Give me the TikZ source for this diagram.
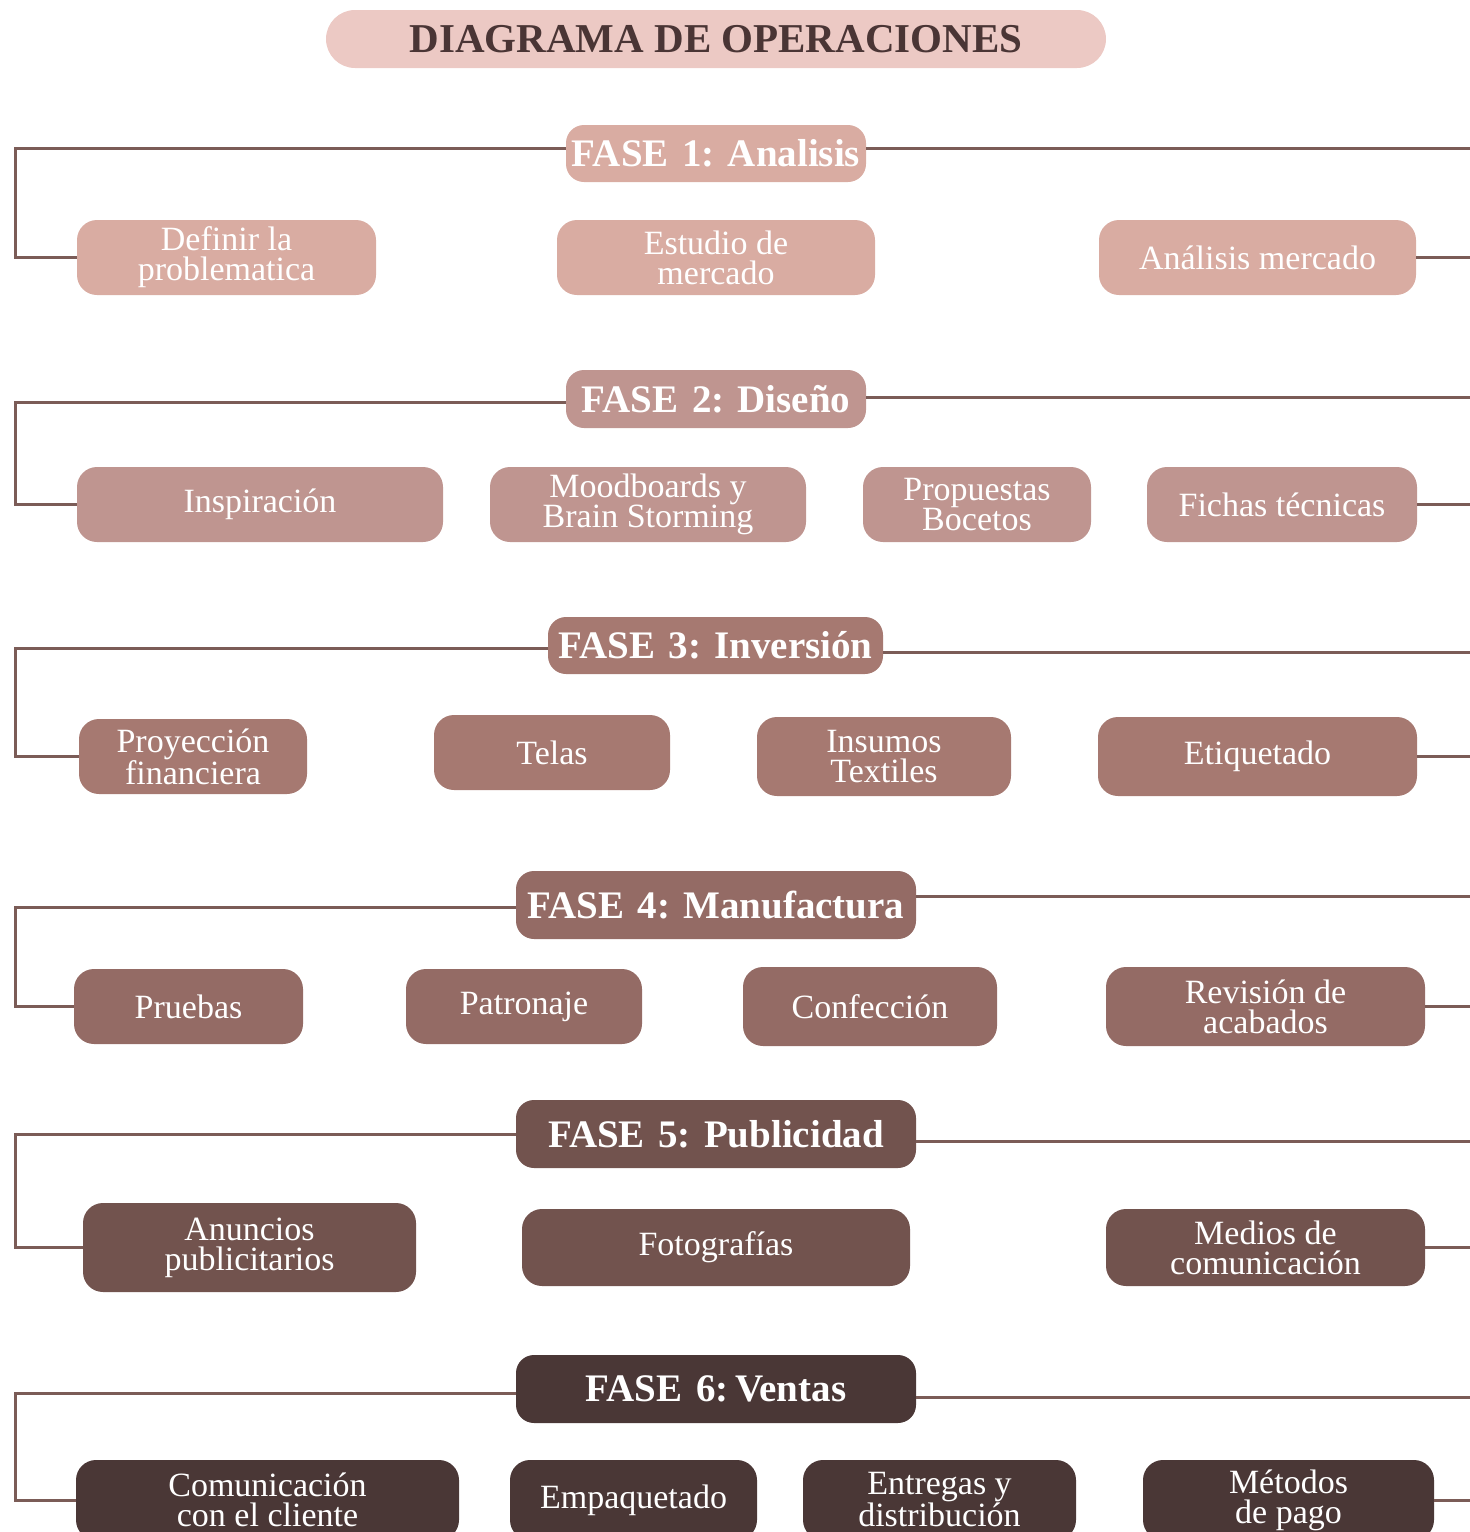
\documentclass[tikz,border=0pt]{standalone}
\usepackage{fontspec}
\setmainfont{Liberation Serif}
\definecolor{titlefill}{HTML}{ECC9C4}
\definecolor{titletext}{HTML}{4A3535}
\definecolor{cA}{HTML}{D9ACA2}
\definecolor{cB}{HTML}{BF9590}
\definecolor{cC}{HTML}{A67971}
\definecolor{cD}{HTML}{946B65}
\definecolor{cE}{HTML}{72534E}
\definecolor{cF}{HTML}{4A3736}
\definecolor{lc}{HTML}{7B5C57}
\newcommand{\childfont}{\fontsize{34}{30}\selectfont}
\newcommand{\hdrfont}{\fontsize{39}{42}\selectfont\bfseries}
\begin{document}
\begin{tikzpicture}[x=1pt,y=-1pt,
  ln/.style={draw=lc, line width=3pt},
  child/.style={rounded corners=20pt, text=white, font=\childfont, align=center, inner sep=0pt},
  hdr/.style={rounded corners=18pt, text=white, font=\hdrfont, inner sep=0pt, minimum height=68pt},
]
\useasboundingbox (0,0) rectangle (1470,1532);
\clip (0,0) rectangle (1470,1532);

% title
\node[fill=titlefill, rounded corners=29pt, minimum width=780pt, minimum height=58pt, inner sep=0pt,
  text=titletext, font=\fontsize{41}{44}\selectfont\bfseries] (title) at (716,39) {DIAGRAMA DE OPERACIONES};

% ---------- FASE 1
\node[hdr, fill=cA, minimum width=300pt, minimum height=57pt] (h1) at (716,153.5) {FASE\hspace{0.35em}1: Analisis};
\node[child, fill=cA, minimum width=299pt, minimum height=75pt] (a1) at (226.5,257.5) {Definir la\\problematica};
\node[child, fill=cA, minimum width=318pt, minimum height=75pt] (a2) at (716,257.5) {Estudio de\\mercado};
\node[child, fill=cA, minimum width=317pt, minimum height=75pt] (a3) at (1257.5,257.5) {Análisis mercado};
\coordinate (L1) at (15,148);
\coordinate (R1) at (1470,148);
\draw[ln] (h1.west |- L1) -- (L1) -- (L1 |- a1.west) -- (a1.west);
\draw[ln] (h1.east |- R1) -- (R1);
\draw[ln] (a3.east) -- (a3.east -| R1);

% ---------- FASE 2
\node[hdr, fill=cB, minimum width=300pt, minimum height=58pt] (h2) at (716,399) {FASE\hspace{0.35em}2: Diseño};
\node[child, fill=cB, minimum width=366pt, minimum height=75pt] (b1) at (260,504.5) {Inspiración};
\node[child, fill=cB, minimum width=316pt, minimum height=75pt] (b2) at (648,504.5) {Moodboards y\\Brain Storming};
\node[child, fill=cB, minimum width=228pt, minimum height=75pt] (b3) at (977,504.5) {Propuestas\\Bocetos};
\node[child, fill=cB, minimum width=270pt, minimum height=75pt] (b4) at (1282,504.5) {Fichas técnicas};
\coordinate (L2) at (15,402);
\coordinate (R2) at (1470,397);
\draw[ln] (h2.west |- L2) -- (L2) -- (L2 |- b1.west) -- (b1.west);
\draw[ln] (h2.east |- R2) -- (R2);
\draw[ln] (b4.east) -- (b4.east -| R2);

% ---------- FASE 3
\node[hdr, fill=cC, minimum width=335pt, minimum height=57pt] (h3) at (715.5,645.5) {FASE\hspace{0.35em}3: Inversión};
\node[child, fill=cC, minimum width=228pt, minimum height=75pt] (c1) at (193,756.5) {Proyección\\financiera};
\node[child, fill=cC, minimum width=236pt, minimum height=75pt] (c2) at (552,752.5) {Telas};
\node[child, fill=cC, minimum width=254pt, minimum height=79pt] (c3) at (884,756.5) {Insumos\\Textiles};
\node[child, fill=cC, minimum width=319pt, minimum height=79pt] (c4) at (1257.5,756.5) {Etiquetado};
\coordinate (L3) at (15,648);
\coordinate (R3) at (1470,652);
\draw[ln] (h3.west |- L3) -- (L3) -- (L3 |- c1.west) -- (c1.west);
\draw[ln] (h3.east |- R3) -- (R3);
\draw[ln] (c4.east) -- (c4.east -| R3);

% ---------- FASE 4
\node[hdr, fill=cD, minimum width=400pt] (h4) at (716,905) {FASE\hspace{0.35em}4: Manufactura};
\node[child, fill=cD, minimum width=229pt, minimum height=75pt] (d1) at (188.5,1006.5) {Pruebas};
\node[child, fill=cD, minimum width=236pt, minimum height=75pt] (d2) at (524,1006.5) {Patronaje};
\node[child, fill=cD, minimum width=254pt, minimum height=79pt] (d3) at (870,1006.5) {Confección};
\node[child, fill=cD, minimum width=319pt, minimum height=79pt] (d4) at (1265.5,1006.5) {Revisión de\\acabados};
\coordinate (L4) at (15,907);
\coordinate (R4) at (1470,896);
\draw[ln] (h4.west |- L4) -- (L4) -- (L4 |- d1.west) -- (d1.west);
\draw[ln] (h4.east |- R4) -- (R4);
\draw[ln] (d4.east) -- (d4.east -| R4);

% ---------- FASE 5
\node[hdr, fill=cE, minimum width=400pt] (h5) at (716,1134) {FASE\hspace{0.35em}5: Publicidad};
\node[child, fill=cE, minimum width=333pt, minimum height=89pt] (e1) at (249.5,1247.5) {Anuncios\\publicitarios};
\node[child, fill=cE, minimum width=388pt, minimum height=77pt] (e2) at (716,1247.5) {Fotografías};
\node[child, fill=cE, minimum width=319pt, minimum height=77pt] (e3) at (1265.5,1247.5) {Medios de\\comunicación};
\coordinate (L5) at (15,1134);
\coordinate (R5) at (1470,1141);
\draw[ln] (h5.west |- L5) -- (L5) -- (L5 |- e1.west) -- (e1.west);
\draw[ln] (h5.east |- R5) -- (R5);
\draw[ln] (e3.east) -- (e3.east -| R5);

% ---------- FASE 6
\node[hdr, fill=cF, minimum width=400pt] (h6) at (716,1389) {FASE\hspace{0.35em}6:\,Ventas};
\node[child, fill=cF, minimum width=383pt, minimum height=80pt] (f1) at (267.5,1500) {Comunicación\\con el cliente};
\node[child, fill=cF, minimum width=247pt, minimum height=80pt] (f2) at (633.5,1500) {Empaquetado};
\node[child, fill=cF, minimum width=273pt, minimum height=80pt] (f3) at (939.5,1500) {Entregas y\\distribución};
\node[child, fill=cF, minimum width=291pt, minimum height=80pt] (f4) at (1288.5,1500) {Métodos\\de pago};
\coordinate (L6) at (15,1393);
\coordinate (R6) at (1470,1397);
\draw[ln] (h6.west |- L6) -- (L6) -- (L6 |- f1.west) -- (f1.west);
\draw[ln] (h6.east |- R6) -- (R6);
\draw[ln] (f4.east) -- (f4.east -| R6);
\end{tikzpicture}
\end{document}
